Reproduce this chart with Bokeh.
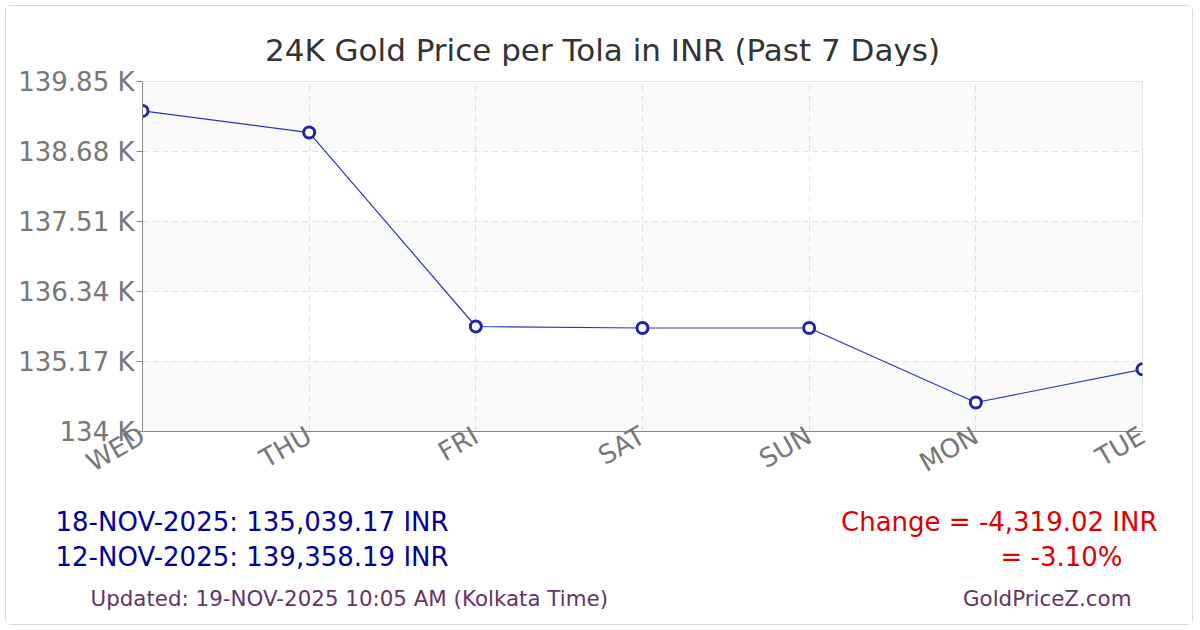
import math
from bokeh.plotting import figure
from bokeh.layouts import column
from bokeh.models import Range1d, FixedTicker, Label, BoxAnnotation
from bokeh.embed import file_html
from bokeh.resources import INLINE

# dias y precios (INR por tola)
dias = ["WED", "THU", "FRI", "SAT", "SUN", "MON", "TUE"]
precios = [139358.19, 138997, 135755, 135730, 135730, 134485, 135039.17]
ticks_y = [134000, 135170, 136340, 137510, 138680, 139850]
ticks_y_txt = ["134 K", "135.17 K", "136.34 K", "137.51 K", "138.68 K", "139.85 K"]

titulo = "24K Gold Price per Tola in INR (Past 7 Days)"
linea1 = "18-NOV-2025: 135,039.17 INR"
linea2 = "12-NOV-2025: 139,358.19 INR"
cambio1 = "Change = -4,319.02 INR"
cambio2 = "= -3.10%"
actualizado = "Updated: 19-NOV-2025 10:05 AM (Kolkata Time)"
sitio = "GoldPriceZ.com"

W = 1186
H_TOP, H_MID, H_BOT = 60, 430, 128
fuente = "DejaVu Sans"


def panel_texto(h):
    # figura sin ejes, el frame ocupa todo el lienzo (coordenadas en pixeles)
    f = figure(width=W, height=h, output_backend="svg", toolbar_location=None,
               x_range=Range1d(0, W), y_range=Range1d(h, 0),
               min_border=0, x_axis_type=None, y_axis_type=None)
    f.frame_align = False
    f.title.visible = False
    f.outline_line_color = None
    f.grid.visible = False
    return f


def etiqueta(f, x, y, texto, color, size, align="left"):
    f.add_layout(Label(x=x, y=y, text=texto, text_color=color, text_font_size=size,
                       text_font=fuente, text_align=align, text_baseline="middle"))


# titulo
t = panel_texto(H_TOP)
etiqueta(t, 596, 43, titulo, "#333333", "31px", align="center")

# grafico
x_vals = list(range(len(dias)))
p = figure(width=W, height=H_MID, output_backend="svg", toolbar_location=None,
           x_range=Range1d(0, len(dias) - 1), y_range=Range1d(ticks_y[0], ticks_y[-1]),
           min_border_left=136, min_border_right=50, min_border_top=15, min_border_bottom=65)
p.title.visible = False
p.outline_line_color = "#e6e6e6"

p.xaxis.ticker = FixedTicker(ticks=x_vals)
p.xaxis.major_label_overrides = {i: d for i, d in enumerate(dias)}
p.xaxis.major_label_orientation = math.radians(30)
p.yaxis.ticker = FixedTicker(ticks=ticks_y)
p.yaxis.major_label_overrides = {v: s for v, s in zip(ticks_y, ticks_y_txt)}
for ax in (p.xaxis, p.yaxis):
    ax.major_label_text_font = fuente
    ax.major_label_text_font_size = "26px"
    ax.major_label_text_color = "#777777"
    ax.axis_line_color = "#888888"
    ax.major_tick_line_color = "#888888"
    ax.major_tick_out = 6
    ax.major_tick_in = 0
    ax.minor_tick_line_color = None
    ax.major_label_standoff = 2
p.xaxis.major_tick_out = 0

p.grid.grid_line_color = "#e2e2e2"
p.grid.grid_line_dash = "6 4"
for i in range(0, len(ticks_y) - 1, 2):
    p.add_layout(BoxAnnotation(bottom=ticks_y[i], top=ticks_y[i + 1], fill_color="black",
                               fill_alpha=0.02, line_color=None, level="underlay"))

p.line(x_vals, precios, line_color="#2b35c0", line_width=1.2)
p.scatter(x_vals, precios, marker="circle", size=11, line_color="#2222aa",
          line_width=3, fill_color="white")

# textos de abajo
b = panel_texto(H_BOT)
etiqueta(b, 49, 25, linea1, "#000099", "26px")
etiqueta(b, 49, 60, linea2, "#000099", "26px")
etiqueta(b, 1151, 25, cambio1, "#dd0000", "26px", align="right")
etiqueta(b, 1116, 60, cambio2, "#dd0000", "26px", align="right")
etiqueta(b, 84, 102, actualizado, "#663366", "21.4px")
etiqueta(b, 1125, 102, sitio, "#663366", "21.4px", align="right")

lay = column(t, p, b, spacing=0, margin=(5, 5, 5, 5),
             styles={"border": "1px solid #d8d8d8", "border-radius": "6px"})

open("out.html", "w").write(file_html(lay, INLINE))
